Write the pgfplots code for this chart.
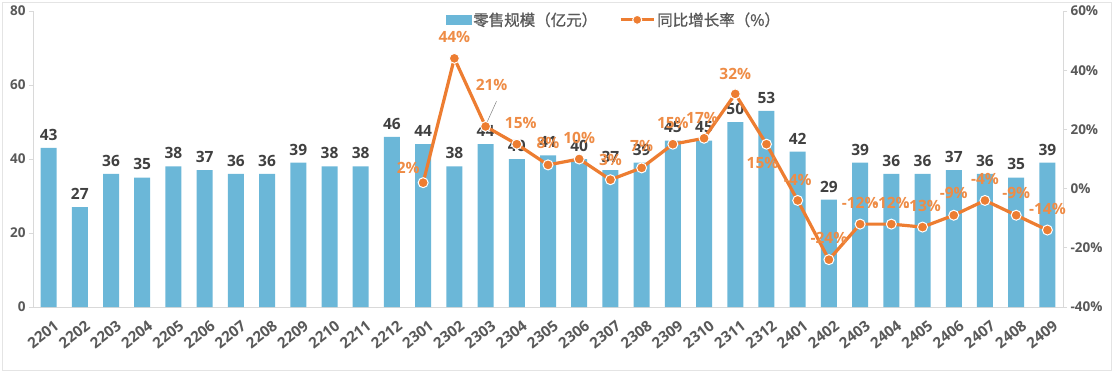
\documentclass[border=0pt]{standalone}
\usepackage{fontspec}
\setmainfont{Open Sans}
\newfontfamily\cjk{Noto Sans CJK SC}[FakeBold=1]
\usepackage{pgfplots}
\usepackage{pgfplotstable}
\pgfplotsset{compat=1.18}
\definecolor{barblue}{RGB}{107,183,216}
\definecolor{lineor}{RGB}{237,125,49}
\definecolor{lblor}{RGB}{238,140,70}
\definecolor{txtgray}{RGB}{64,64,64}
\definecolor{tickgray}{RGB}{89,89,89}
\definecolor{axgray}{RGB}{217,217,217}

\pgfplotstableread{
x v
0 43
1 27
2 36
3 35
4 38
5 37
6 36
7 36
8 39
9 38
10 38
11 46
12 44
13 38
14 44
15 40
16 41
17 40
18 37
19 39
20 45
21 45
22 50
23 53
24 42
25 29
26 39
27 36
28 36
29 37
30 36
31 35
32 39
}\sales

\pgfplotstableread{
x g lab dx dy
12 2 2 -15 15
13 44 44 0 21
14 21 21 6 41
15 15 15 4 21
16 8 8 0 22
17 10 10 0 21
18 3 3 0 20
19 7 7 0 22
20 15 15 0 21
21 17 17 -2 20
22 32 32 0 20
23 15 15 -4 -19
24 -4 -4 0 20
25 -24 -24 0 22
26 -12 -12 0 21
27 -12 -12 0 21
28 -13 -13 0 21
29 -9 -9 0 22
30 -4 -4 0 21
31 -9 -9 0 22
32 -14 -14 0 21
}\growth

\begin{document}
\begin{tikzpicture}[x=1pt,y=1pt]
\useasboundingbox (-33,-65) rectangle (1080,307);
\draw[axgray!70] (-31,-63) rectangle (1078,305);
\begin{axis}[
  at={(0,0)}, anchor=south west,
  scale only axis, width=1030pt, height=296pt,
  xmin=-0.5, xmax=32.5, ymin=0, ymax=80,
  axis x line*=bottom, axis y line*=left,
  axis line style={axgray, line width=0.8pt},
  ytick={0,20,...,80},
  xtick={0,...,32},
  xticklabels={2201,2202,2203,2204,2205,2206,2207,2208,2209,2210,2211,2212,2301,2302,2303,2304,2305,2306,2307,2308,2309,2310,2311,2312,2401,2402,2403,2404,2405,2406,2407,2408,2409},
  x tick style={draw=none},
  y tick style={axgray, line width=0.8pt},
  tick align=outside, major tick length=4pt,
  /pgf/number format/assume math mode=true,
  yticklabel style={font=\bfseries\fontsize{13.5}{13.5}\selectfont, text=tickgray},
  xticklabel style={rotate=38, anchor=north east, font=\bfseries\fontsize{15}{15}\selectfont, text=tickgray, yshift=-6pt, xshift=2pt},
]
\addplot[ybar, bar width=16pt, fill=barblue, draw=none,
  nodes near coords,
  every node near coord/.append style={font=\bfseries\fontsize{15.5}{15.5}\selectfont, text=txtgray, yshift=4pt}]
  table[x=x,y=v]{\sales};
\end{axis}
\begin{axis}[
  at={(0,0)}, anchor=south west,
  scale only axis, width=1030pt, height=296pt,
  xmin=-0.5, xmax=32.5, ymin=-40, ymax=60,
  axis x line=none, axis y line*=right,
  axis line style={axgray, line width=0.8pt},
  ytick={-40,-20,...,60},
  yticklabel={\pgfmathprintnumber{\tick}\%},
  y tick style={axgray, line width=0.8pt},
  tick align=outside, major tick length=4pt,
  /pgf/number format/assume math mode=true,
  yticklabel style={font=\bfseries\fontsize{13.5}{13.5}\selectfont, text=tickgray},
  legend columns=2,
  legend style={at={(0.564,0.97)}, anchor=center, draw=none, fill=none,
    font=\cjk\fontsize{15.5}{15.5}\selectfont, text=tickgray,
    /tikz/every even column/.append style={column sep=20pt}},
]
\addlegendimage{legend image code/.code={\fill[barblue] (0pt,-4.5pt) rectangle (25pt,4.5pt);}}
\addlegendentry{零售规模（亿元）}
\addplot[lineor, line width=3.2pt, mark=*, mark size=5pt,
  mark options={fill=lineor, draw=white, line width=1pt},
  legend image code/.code={\draw[lineor, line width=3pt] (0pt,0pt) -- (33pt,0pt);
    \fill[lineor, draw=white, line width=1pt] (16.5pt,0pt) circle (4.5pt);}]
  table[x=x,y=g]{\growth};
\addlegendentry{同比增长率（\%）}
\addplot[gray, line width=0.5pt, forget plot] coordinates {(14.05,22.5) (14.35,29.5)};
\addplot[draw=none, mark=none, forget plot,
  point meta=explicit symbolic,
  visualization depends on={\thisrow{dx} \as \dx},
  visualization depends on={\thisrow{dy} \as \dy},
  nodes near coords={\pgfplotspointmeta\%},
  every node near coord/.append style={anchor=center, xshift=\dx pt, yshift=\dy pt,
    font=\bfseries\fontsize{15.5}{15.5}\selectfont, text=lblor}]
  table[x=x,y=g,meta=lab]{\growth};
\end{axis}
\end{tikzpicture}
\end{document}
